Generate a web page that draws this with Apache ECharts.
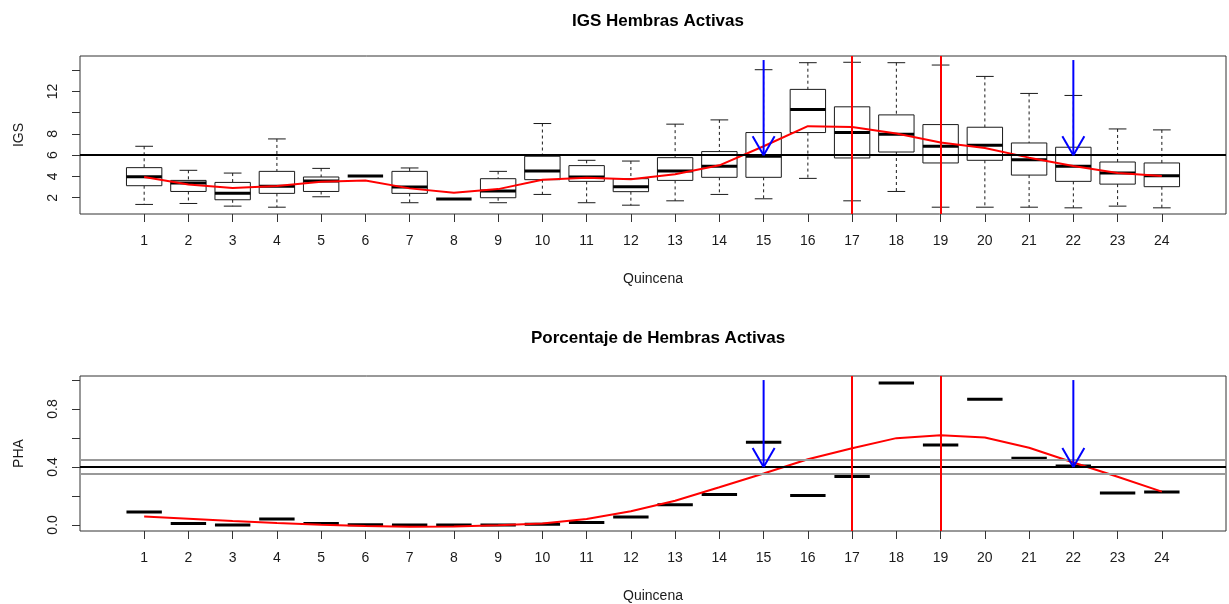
<!DOCTYPE html>
<html>
<head>
<meta charset="utf-8">
<script src="https://cdn.jsdelivr.net/npm/echarts@6/dist/echarts.min.js"></script>
<style>
  html, body { margin: 0; padding: 0; background: #fff; }
  #chart { width: 1229px; height: 604px; }
</style>
</head>
<body>
<div id="chart"></div>
<script>
// Quincenas (fortnights) along the x axis
const quincenas = [1, 2, 3, 4, 5, 6, 7, 8, 9, 10, 11, 12, 13, 14, 15, 16, 17, 18, 19, 20, 21, 22, 23, 24];

// IGS box-plot statistics per quincena
const igsLow    = [1.37, 1.46, 1.21, 1.11, 2.09, 4.04, 1.53, 1.87, 1.53, 2.31, 1.53, 1.30, 1.71, 2.31, 1.90, 3.82, 1.71, 2.59, 1.11, 1.11, 1.11, 1.05, 1.21, 1.05];
const igsQ1     = [3.13, 2.59, 1.81, 2.41, 2.59, 4.04, 2.41, 1.87, 2.00, 3.70, 3.54, 2.57, 3.63, 3.92, 3.92, 8.13, 5.74, 6.30, 5.27, 5.52, 4.13, 3.54, 3.28, 3.04];
const igsMedian = [3.98, 3.38, 2.41, 3.07, 3.57, 4.04, 3.00, 1.87, 2.63, 4.51, 3.95, 3.04, 4.51, 4.95, 5.90, 10.30, 8.13, 7.97, 6.84, 6.93, 5.58, 4.95, 4.32, 4.07];
const igsQ3     = [4.83, 3.63, 3.44, 4.48, 3.95, 4.04, 4.48, 1.87, 3.79, 5.90, 5.02, 3.79, 5.77, 6.34, 8.13, 12.19, 10.55, 9.79, 8.88, 8.63, 7.15, 6.75, 5.36, 5.27];
const igsHigh   = [6.84, 4.58, 4.32, 7.53, 4.76, 4.04, 4.80, 1.87, 4.48, 8.98, 5.52, 5.45, 8.92, 9.32, 14.04, 14.70, 14.74, 14.70, 14.48, 13.41, 11.81, 11.62, 8.47, 8.38];
// Smoothed IGS trend
const igsTrend  = [3.95, 3.25, 2.91, 3.10, 3.51, 3.63, 2.88, 2.47, 2.81, 3.70, 3.89, 3.73, 4.20, 5.05, 6.84, 8.73, 8.66, 8.04, 7.19, 6.68, 5.77, 4.98, 4.32, 4.04];

// Proportion of active females per quincena and its smoothed trend
const phaValues = [0.090, 0.009, 0.000, 0.041, 0.009, 0.002, 0.000, 0.000, 0.000, 0.005, 0.016, 0.054, 0.140, 0.210, 0.571, 0.203, 0.334, 0.980, 0.551, 0.868, 0.461, 0.407, 0.221, 0.228];
const phaTrend  = [0.058, 0.043, 0.027, 0.014, 0.002, -0.007, -0.012, -0.011, -0.003, 0.009, 0.041, 0.095, 0.167, 0.260, 0.355, 0.453, 0.529, 0.599, 0.619, 0.603, 0.533, 0.431, 0.332, 0.230];

// Reference values
const igsThreshold = 6;
const phaThreshold = 0.4;
const phaBand = [0.35, 0.45];
const redQuincenas = [17, 19];
const arrowQuincenas = [15, 22];
const igsArrowTop = 14.95;
const phaArrowTop = 1.0;

// Tick positions and labelled ticks
const igsTicks = [2, 4, 6, 8, 10, 12, 14];
const igsTickLabels = [2, 4, 6, 8, 12];
const phaTicks = [0, 0.2, 0.4, 0.6, 0.8, 1.0];
const phaTickLabels = [0, 0.4, 0.8];

const FONT = '"Liberation Sans", Arial, sans-serif';
const INK = '#1a1a1a';

const boxData = quincenas.map((q, i) => [q, igsLow[i], igsQ1[i], igsMedian[i], igsQ3[i], igsHigh[i]]);
const phaBoxData = quincenas.map((q, i) => [q, phaValues[i]]);

function renderBox(params, api) {
  const x = api.value(0);
  const low = api.value(1), q1 = api.value(2), med = api.value(3), q3 = api.value(4), high = api.value(5);
  const bw = api.size([0.8, 0])[0];
  const half = bw / 2, cap = bw / 4;
  const pLow = api.coord([x, low]), pQ1 = api.coord([x, q1]), pMed = api.coord([x, med]);
  const pQ3 = api.coord([x, q3]), pHigh = api.coord([x, high]);
  const cx = pMed[0];
  const children = [];
  const dashed = { stroke: INK, lineWidth: 1, lineDash: [3, 3] };
  const solid = { stroke: INK, lineWidth: 1 };
  if (high > q3) {
    children.push({ type: 'line', shape: { x1: cx, y1: pHigh[1], x2: cx, y2: pQ3[1] }, style: dashed });
    children.push({ type: 'line', shape: { x1: cx - cap, y1: pHigh[1], x2: cx + cap, y2: pHigh[1] }, style: solid });
  }
  if (low < q1) {
    children.push({ type: 'line', shape: { x1: cx, y1: pQ1[1], x2: cx, y2: pLow[1] }, style: dashed });
    children.push({ type: 'line', shape: { x1: cx - cap, y1: pLow[1], x2: cx + cap, y2: pLow[1] }, style: solid });
  }
  if (q3 > q1) {
    children.push({ type: 'rect', shape: { x: cx - half, y: pQ3[1], width: bw, height: pQ1[1] - pQ3[1] },
      style: { fill: '#fff', stroke: INK, lineWidth: 1 } });
  }
  children.push({ type: 'line', shape: { x1: cx - half, y1: pMed[1], x2: cx + half, y2: pMed[1] },
    style: { stroke: '#000', lineWidth: 3 } });
  return { type: 'group', children };
}

function renderDash(params, api) {
  const x = api.value(0), v = api.value(1);
  const bw = api.size([0.8, 0])[0];
  const p = api.coord([x, v]);
  return { type: 'line', shape: { x1: p[0] - bw / 2, y1: p[1], x2: p[0] + bw / 2, y2: p[1] },
    style: { stroke: '#000', lineWidth: 3 } };
}

function renderArrow(params, api) {
  const x = api.value(0);
  const top = api.coord([x, api.value(1)]);
  const tip = api.coord([x, api.value(2)]);
  const len = 22, ang = Math.PI / 6;
  const dx = len * Math.sin(ang), dy = len * Math.cos(ang);
  const st = { stroke: '#0000ff', lineWidth: 2, fill: 'none' };
  return { type: 'group', children: [
    { type: 'line', shape: { x1: top[0], y1: top[1], x2: tip[0], y2: tip[1] }, style: st },
    { type: 'line', shape: { x1: tip[0] - dx, y1: tip[1] - dy, x2: tip[0], y2: tip[1] }, style: st },
    { type: 'line', shape: { x1: tip[0] + dx, y1: tip[1] - dy, x2: tip[0], y2: tip[1] }, style: st }
  ] };
}

const xAxisBase = (gridIndex) => ({
  type: 'value', gridIndex, min: -0.45, max: 25.45,
  name: 'Quincena', nameLocation: 'middle', nameGap: 58, nameMoveOverlap: false,
  nameTextStyle: { fontFamily: FONT, fontSize: 14, color: INK },
  axisLine: { show: false, onZero: false },
  axisTick: { show: true, inside: false, length: 8, customValues: quincenas, lineStyle: { color: '#333' } },
  axisLabel: { customValues: quincenas, margin: 20, fontFamily: FONT, fontSize: 14, color: INK },
  splitLine: { show: false }
});

const yAxisBase = (gridIndex, name, min, max, ticks, labels, fmt) => ({
  type: 'value', gridIndex, min, max,
  name, nameLocation: 'middle', nameGap: 54, nameRotate: 90, nameMoveOverlap: false,
  nameTextStyle: { fontFamily: FONT, fontSize: 14, color: INK },
  axisLine: { show: false, onZero: false },
  axisTick: { show: true, inside: false, length: 8, customValues: ticks, lineStyle: { color: '#333' } },
  axisLabel: { customValues: labels, rotate: 90, margin: 20, fontFamily: FONT, fontSize: 14, color: INK,
    formatter: fmt },
  splitLine: { show: false }
});

const chart = echarts.init(document.getElementById('chart'), null, { renderer: 'canvas' });
chart.setOption({
  backgroundColor: '#fff',
  animation: false,
  title: [
    { text: 'IGS Hembras Activas', left: 653, top: 8, textAlign: 'center',
      textStyle: { fontFamily: FONT, fontSize: 17, fontWeight: 'bold', color: '#000' } },
    { text: 'Porcentaje de Hembras Activas', left: 653, top: 325, textAlign: 'center',
      textStyle: { fontFamily: FONT, fontSize: 17, fontWeight: 'bold', color: '#000' } }
  ],
  grid: [
    { left: 80, top: 56, right: 3, height: 158, show: true, borderColor: '#333', borderWidth: 1, backgroundColor: 'transparent' },
    { left: 80, top: 376, right: 3, height: 158, show: true, borderColor: '#333', borderWidth: 1, backgroundColor: 'transparent' }
  ],
  xAxis: [xAxisBase(0), xAxisBase(1)],
  yAxis: [
    yAxisBase(0, 'IGS', 0.47, 15.33, igsTicks, igsTickLabels, (v) => String(v)),
    yAxisBase(1, 'PHA', -0.042, 1.028, phaTicks, phaTickLabels, (v) => Number(v).toFixed(1))
  ],
  series: [
    // IGS box plots
    { type: 'custom', xAxisIndex: 0, yAxisIndex: 0, renderItem: renderBox, data: boxData, z: 2,
      encode: { x: 0, y: [1, 2, 3, 4, 5] } },
    // IGS threshold and highlighted quincenas
    { type: 'line', xAxisIndex: 0, yAxisIndex: 0, data: [], z: 3,
      markLine: { silent: true, symbol: 'none', label: { show: false },
        data: [{ yAxis: igsThreshold, lineStyle: { color: '#000', width: 2, type: 'solid' } }]
          .concat(redQuincenas.map(q => ({ xAxis: q, lineStyle: { color: '#ff0000', width: 2, type: 'solid' } }))) } },
    // IGS trend
    { type: 'line', xAxisIndex: 0, yAxisIndex: 0, data: quincenas.map((q, i) => [q, igsTrend[i]]),
      showSymbol: false, lineStyle: { color: '#ff0000', width: 2 }, z: 4 },
    // IGS arrows
    { type: 'custom', xAxisIndex: 0, yAxisIndex: 0, renderItem: renderArrow, z: 5,
      data: arrowQuincenas.map(q => [q, igsArrowTop, igsThreshold]) },

    // PHA band and threshold, highlighted quincenas
    { type: 'line', xAxisIndex: 1, yAxisIndex: 1, data: [], z: 3,
      markLine: { silent: true, symbol: 'none', label: { show: false },
        data: phaBand.map(v => ({ yAxis: v, lineStyle: { color: '#999999', width: 2, type: 'solid' } }))
          .concat([{ yAxis: phaThreshold, lineStyle: { color: '#000', width: 2, type: 'solid' } }])
          .concat(redQuincenas.map(q => ({ xAxis: q, lineStyle: { color: '#ff0000', width: 2, type: 'solid' } }))) } },
    // PHA values
    { type: 'custom', xAxisIndex: 1, yAxisIndex: 1, renderItem: renderDash, data: phaBoxData, z: 2,
      encode: { x: 0, y: 1 } },
    // PHA trend
    { type: 'line', xAxisIndex: 1, yAxisIndex: 1, data: quincenas.map((q, i) => [q, phaTrend[i]]),
      showSymbol: false, lineStyle: { color: '#ff0000', width: 2 }, z: 4 },
    // PHA arrows
    { type: 'custom', xAxisIndex: 1, yAxisIndex: 1, renderItem: renderArrow, z: 5,
      data: arrowQuincenas.map(q => [q, phaArrowTop, phaThreshold]) }
  ]
});
</script>
</body>
</html>
